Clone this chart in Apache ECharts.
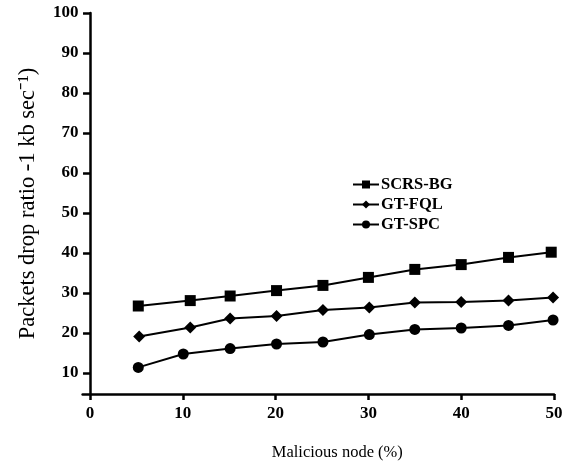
<!DOCTYPE html>
<html>
<head>
<meta charset="utf-8">
<script src="https://cdn.jsdelivr.net/npm/echarts@6/dist/echarts.min.js"></script>
<style>html,body{margin:0;padding:0;background:#fff}#c{width:569px;height:466px}</style>
</head>
<body>
<div id="c"></div>
<script>
const seriesNames = ['SCRS-BG', 'GT-FQL', 'GT-SPC'];
const xScrs = [5.2, 10.8, 15.1, 20.1, 25.1, 30, 35, 40, 45.1, 49.7];
const yScrs = [26.75, 28.1, 29.25, 30.6, 31.9, 33.9, 35.9, 37.1, 38.9, 40.2];
const xFql = [5.3, 10.8, 15.1, 20.1, 25.1, 30.1, 35, 40, 45.1, 49.9];
const yFql = [19.1, 21.4, 23.6, 24.25, 25.75, 26.4, 27.6, 27.75, 28.1, 28.9];
const xSpc = [5.2, 10.05, 15.1, 20.1, 25.1, 30.1, 35, 40, 45.1, 49.9];
const ySpc = [11.4, 14.75, 16.1, 17.25, 17.75, 19.6, 20.9, 21.25, 21.9, 23.25];
const xTicks = [0, 10, 20, 30, 40, 50];
const yTicks = [10, 20, 30, 40, 50, 60, 70, 80, 90, 100];

const pair = (xs, ys) => xs.map((x, i) => [x, ys[i]]);
const font = 'Liberation Serif';
const chart = echarts.init(document.getElementById('c'));
const mk = (name, data, symbol, size) => ({
  name, type: 'line', data, symbol, symbolSize: size,
  lineStyle: { color: '#000', width: 2 },
  itemStyle: { color: '#000' },
  animation: false
});
chart.setOption({
  animation: false,
  legend: {
    data: seriesNames,
    orient: 'vertical',
    left: 347, top: 171,
    itemWidth: 26, itemHeight: 10, itemGap: 3,
    textStyle: { fontFamily: font, fontWeight: 'bold', fontSize: 16.5, color: '#000', padding: [0, 0, 0, -3] }
  },
  grid: { left: 82.6, right: 15, top: 13, bottom: 72, containLabel: false },
  xAxis: {
    type: 'value', min: -0.8, max: 50,
    name: 'Malicious node (%)', nameLocation: 'middle', nameGap: 50,
    nameTextStyle: { fontFamily: font, fontSize: 16.5, color: '#000', padding: [0, 0, 0, 38] },
    axisLine: { lineStyle: { color: '#000', width: 2.5 } },
    axisTick: { show: true, length: 6, customValues: xTicks, lineStyle: { color: '#000', width: 2.5 } },
    axisLabel: { customValues: xTicks, margin: 11, fontFamily: font, fontWeight: 'bold', fontSize: 17, color: '#000' },
    splitLine: { show: false }
  },
  yAxis: {
    type: 'value', min: 4.75, max: 100,
    name: 'Packets drop ratio -1 kb sec\u207B\u00B9)', nameLocation: 'middle', nameGap: 43,
    nameTextStyle: { fontFamily: font, fontSize: 22.5, color: '#000' },
    axisLine: { onZero: true, lineStyle: { color: '#000', width: 2.5 } },
    axisTick: { show: true, length: 7, customValues: yTicks, lineStyle: { color: '#000', width: 2.5 } },
    axisLabel: { customValues: yTicks, margin: 4, fontFamily: font, fontWeight: 'bold', fontSize: 17, color: '#000' },
    splitLine: { show: false }
  },
  series: [
    mk(seriesNames[0], pair(xScrs, yScrs), 'rect', 11),
    mk(seriesNames[1], pair(xFql, yFql), 'diamond', 12),
    mk(seriesNames[2], pair(xSpc, ySpc), 'circle', 11)
  ]
});
</script>
</body>
</html>
